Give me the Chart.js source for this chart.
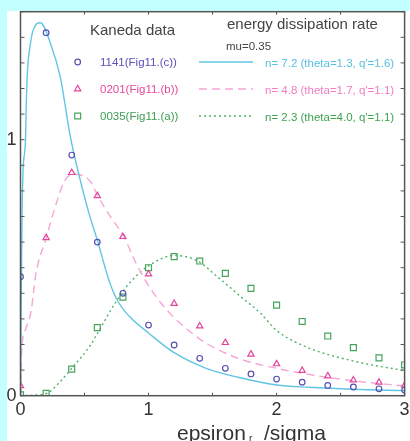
<!DOCTYPE html>
<html>
<head>
<meta charset="utf-8">
<script src="https://cdn.jsdelivr.net/npm/chart.js@4.4.1/dist/chart.umd.min.js"></script>
<style>
    html, body { margin: 0; padding: 0; width: 410px; height: 441px; overflow: hidden; background: #c4ffff; }
    #panel { position: absolute; left: 7px; top: 11px; width: 403px; height: 430px; background: #fff; }
    #wrap { position: absolute; left: 0; top: 0; width: 410px; height: 441px; }
</style>
</head>
<body>
<div id="panel"></div>
<div id="wrap"><canvas id="chart"></canvas></div>
<script>
// Kaneda data, sampled every 0.2
const kanedaX = [0, 0.2, 0.4, 0.6, 0.8, 1.0, 1.2, 1.4, 1.6, 1.8, 2.0, 2.2, 2.4, 2.6, 2.8, 3.0];
const data1141 = [0.465, 1.418, 0.940, 0.600, 0.400, 0.276, 0.198, 0.146, 0.107, 0.085, 0.065, 0.053, 0.040, 0.034, 0.027, 0.022];
const data0201 = [0.038, 0.617, 0.871, 0.781, 0.621, 0.475, 0.360, 0.272, 0.207, 0.162, 0.124, 0.098, 0.077, 0.061, 0.052, 0.040];
const data0035 = [0.003, 0.009, 0.104, 0.266, 0.385, 0.500, 0.543, 0.526, 0.478, 0.419, 0.354, 0.290, 0.233, 0.188, 0.148, 0.120];

// energy dissipation rate curves
const fit72X = [0, 0.006, 0.012, 0.02, 0.039, 0.044, 0.052, 0.078, 0.1, 0.156, 0.234, 0.31, 0.39, 0.455, 0.535, 0.6, 0.69, 0.755, 0.85, 1.0, 1.2, 1.45, 1.7, 2.0, 2.25, 2.6, 3.0];
const fit72Y = [0, 0.4, 0.7, 0.88, 1.0, 1.116, 1.246, 1.376, 1.43, 1.457, 1.376, 1.246, 1.01, 0.866, 0.712, 0.608, 0.452, 0.374, 0.31, 0.245, 0.168, 0.107, 0.072, 0.042, 0.033, 0.025, 0.020];
const fit48X = [0, 0.01, 0.04, 0.083, 0.104, 0.12, 0.2, 0.26, 0.338, 0.41, 0.547, 0.6, 0.703, 0.807, 0.9, 1.0, 1.1, 1.2, 1.35, 1.45, 1.7, 2.0, 2.23, 2.62, 3.0];
const fit48Y = [0, 0.18, 0.26, 0.33, 0.413, 0.475, 0.615, 0.719, 0.832, 0.866, 0.836, 0.784, 0.699, 0.621, 0.52, 0.43, 0.36, 0.305, 0.24, 0.205, 0.146, 0.107, 0.085, 0.057, 0.038];
const fit23X = [0, 0.1, 0.21, 0.3, 0.4, 0.547, 0.6, 0.755, 0.86, 1.0, 1.2, 1.38, 1.537, 1.72, 1.875, 2.0, 2.23, 2.62, 3.0];
const fit23Y = [0, 0.002, 0.01, 0.05, 0.107, 0.198, 0.243, 0.374, 0.445, 0.507, 0.548, 0.527, 0.465, 0.387, 0.322, 0.255, 0.191, 0.133, 0.098];

const xTickLabels = ['0', '1', '2', '3'];
const yTickLabels = ['0', '1'];

const dataLabels = ['1141(Fig11.(c))', '0201(Fig11.(b))', '0035(Fig11.(a))'];
const fitLabels = ["n= 7.2 (theta=1.3, q'=1.6)", "n= 4.8 (theta=1.7, q'=1.1)", "n= 2.3 (theta=4.0, q'=1.1)"];

const FONT = '"Liberation Sans", Arial, sans-serif';
const pts = (xs, ys) => xs.map((x, i) => ({ x: x, y: ys[i] }));

const markerSets = [
    { label: dataLabels[0], data: pts(kanedaX, data1141), pointStyle: 'circle', pointRadius: 2.8, borderColor: '#5650b4', textColor: '#5a50b8' },
    { label: dataLabels[1], data: pts(kanedaX, data0201), pointStyle: 'triangle', pointRadius: 3.6, borderColor: '#e4449c', textColor: '#e8489c' },
    { label: dataLabels[2], data: pts(kanedaX, data0035), pointStyle: 'rect', pointRadius: 4.2, borderColor: '#44a45c', textColor: '#3d9e52' }
];
const curveSets = [
    { label: fitLabels[0], data: pts(fit72X, fit72Y), borderColor: '#62c6e2', borderDash: [], textColor: '#58c0e0' },
    { label: fitLabels[1], data: pts(fit48X, fit48Y), borderColor: '#f5a6d6', borderDash: [8, 5], textColor: '#f07cc4' },
    { label: fitLabels[2], data: pts(fit23X, fit23Y), borderColor: '#52b266', borderDash: [2, 3], textColor: '#40a252' }
];

const datasets = [];
markerSets.forEach(s => datasets.push({
    label: s.label, data: s.data, showLine: false,
    pointStyle: s.pointStyle, pointRadius: s.pointRadius, pointBorderWidth: 1.2,
    pointBorderColor: s.borderColor, pointBackgroundColor: 'rgba(0,0,0,0)'
}));
curveSets.forEach(s => datasets.push({
    label: s.label, data: s.data, showLine: true, pointRadius: 0,
    borderColor: s.borderColor, borderWidth: 1.4, borderDash: s.borderDash,
    cubicInterpolationMode: 'monotone', fill: false
}));

// frame with inward ticks, like a plot box
const framePlugin = {
    id: 'frame',
    afterDatasetsDraw(chart) {
        const { ctx, chartArea: a, scales: { x, y } } = chart;
        ctx.save();
        ctx.strokeStyle = '#555';
        ctx.lineWidth = 1.5;
        ctx.strokeRect(a.left, a.top, a.right - a.left, a.bottom - a.top);
        ctx.lineWidth = 1;
        ctx.beginPath();
        for (let v = 0; v <= 3.0001; v += 0.5) {
            const px = x.getPixelForValue(v);
            ctx.moveTo(px, a.bottom); ctx.lineTo(px, a.bottom - 3);
            ctx.moveTo(px, a.top); ctx.lineTo(px, a.top + 3);
        }
        for (let i = 0; i <= 15; i++) {
            const py = y.getPixelForValue(i / 10);
            ctx.moveTo(a.left, py); ctx.lineTo(a.left + 4, py);
            ctx.moveTo(a.right, py); ctx.lineTo(a.right - 4, py);
        }
        ctx.stroke();
        ctx.restore();
    }
};

// two-column key plus the x-axis title with its subscript
const keyPlugin = {
    id: 'key',
    afterDraw(chart) {
        const ctx = chart.ctx;
        ctx.save();
        ctx.fillStyle = '#444';
        ctx.textBaseline = 'alphabetic';
        ctx.font = '15px ' + FONT;
        ctx.fillText('Kaneda data', 90, 34.5);
        ctx.fillText('energy dissipation rate', 227, 28.5);
        ctx.font = '11.5px ' + FONT;
        ctx.fillText('mu=0.35', 226, 50);

        const rows = [62, 89, 116];
        ctx.textBaseline = 'middle';
        markerSets.forEach((s, i) => {
            ctx.fillStyle = 'rgba(0,0,0,0)';
            ctx.strokeStyle = s.borderColor;
            ctx.lineWidth = 1.2;
            Chart.helpers.drawPoint(ctx, {
                pointStyle: s.pointStyle, radius: s.pointRadius, borderWidth: 1.2,
                rotation: 0
            }, 77.7, rows[i]);
            ctx.fillStyle = s.textColor;
            ctx.fillText(s.label, 100, rows[i] + 1);
        });
        curveSets.forEach((s, i) => {
            ctx.strokeStyle = s.borderColor;
            ctx.lineWidth = 1.4;
            ctx.setLineDash(s.borderDash);
            ctx.beginPath();
            ctx.moveTo(199, rows[i]);
            ctx.lineTo(253, rows[i]);
            ctx.stroke();
            ctx.setLineDash([]);
            ctx.fillStyle = s.textColor;
            ctx.fillText(s.label, 265, rows[i] + 1.5);
        });

        ctx.fillStyle = '#333';
        ctx.textBaseline = 'alphabetic';
        ctx.font = '21px ' + FONT;
        ctx.fillText('epsiron', 177, 440);
        ctx.font = '10px ' + FONT;
        ctx.fillText('r', 249, 442);
        ctx.font = '21px ' + FONT;
        ctx.fillText('/sigma', 264, 440);
        ctx.restore();
    }
};

new Chart(document.getElementById('chart').getContext('2d'), {
    type: 'scatter',
    data: { datasets: datasets },
    options: {
        responsive: true,
        maintainAspectRatio: false,
        animation: false,
        layout: { padding: { top: 11.7, right: 5, left: 0, bottom: 0 } },
        plugins: { legend: { display: false }, tooltip: { enabled: false } },
        scales: {
            x: {
                type: 'linear', min: 0, max: 3,
                grid: { display: false, drawTicks: false },
                border: { display: false },
                ticks: {
                    stepSize: 0.5, autoSkip: false, maxRotation: 0, padding: 4,
                    color: '#333', font: { family: FONT, size: 18 },
                    callback: v => Math.abs(v - Math.round(v)) < 1e-6 ? xTickLabels[Math.round(v)] : ''
                },
                afterFit(s) { s.height = 45.3; s.paddingLeft = 0; s.paddingRight = 0; }
            },
            y: {
                type: 'linear', min: 0, max: 1.5,
                grid: { display: false, drawTicks: false },
                border: { display: false },
                ticks: {
                    stepSize: 0.1, autoSkip: false, padding: 4,
                    color: '#333', font: { family: FONT, size: 18 },
                    callback: v => Math.abs(v - Math.round(v)) < 1e-6 ? yTickLabels[Math.round(v)] : ''
                },
                afterFit(s) { s.width = 20.5; s.paddingTop = 0; s.paddingBottom = 0; }
            }
        }
    },
    plugins: [framePlugin, keyPlugin]
});
</script>
</body>
</html>
